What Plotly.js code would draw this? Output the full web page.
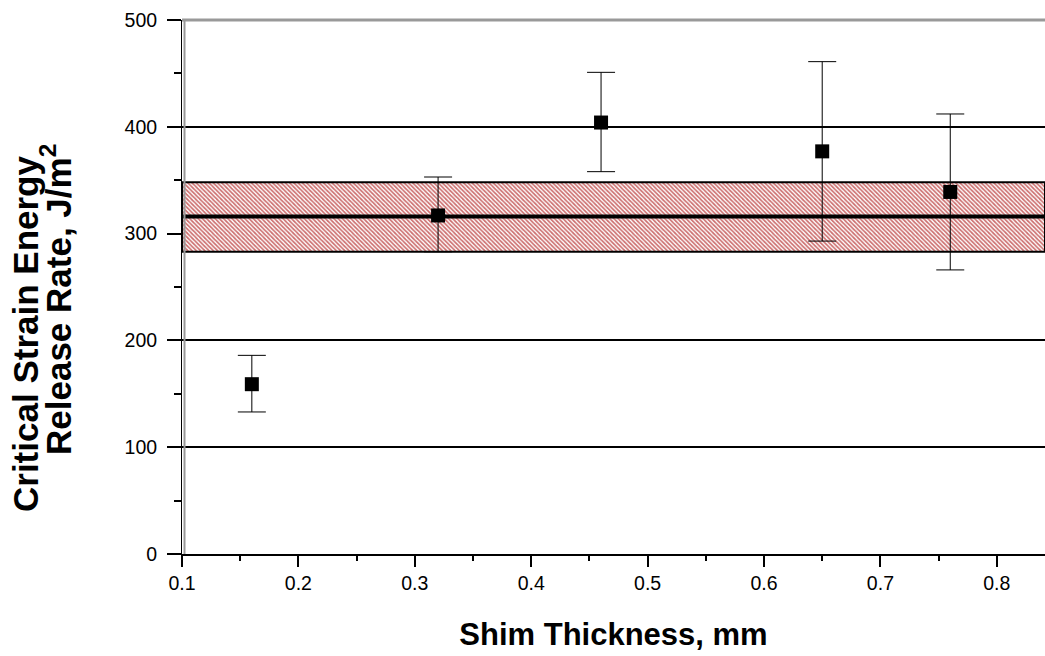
<!DOCTYPE html>
<html>
<head>
<meta charset="utf-8">
<script src="https://cdn.plot.ly/plotly-3.0.1.min.js"></script>
<style>html,body{margin:0;padding:0;background:#fff;}#chart{width:1045px;height:656px;}</style>
</head>
<body>
<div id="chart"></div>
<script>
// Data
const shimThickness = [0.16, 0.32, 0.46, 0.65, 0.76];      // mm
const gcValues      = [159, 317, 404, 377, 339];            // J/m^2
const errPlus       = [27, 36, 47, 84, 73];
const errMinus      = [26, 34, 46, 84, 73];
const bandLow  = 283;
const bandHigh = 348;
const bandMean = 316;
const xRange = [0.1, 0.8414];
const yRange = [0, 500];

const font = 'Liberation Sans, Arial, sans-serif';

const band = {
  type: 'scatter', mode: 'lines',
  x: [xRange[0], xRange[1], xRange[1], xRange[0], xRange[0]],
  y: [bandLow, bandLow, bandHigh, bandHigh, bandLow],
  fill: 'toself',
  fillcolor: '#ffffff',
  fillpattern: {shape: '\\', fgcolor: '#cc6e6e', bgcolor: '#ffffff', size: 3, solidity: 0.55},
  line: {color: '#000', width: 2},
  hoverinfo: 'skip', showlegend: false
};
const meanLine = {
  type: 'scatter', mode: 'lines',
  x: [xRange[0], xRange[1]], y: [bandMean, bandMean],
  line: {color: '#000', width: 4},
  hoverinfo: 'skip', showlegend: false
};
const points = {
  type: 'scatter', mode: 'markers',
  x: shimThickness, y: gcValues,
  marker: {symbol: 'square', size: 14, color: '#000'},
  error_y: {type: 'data', symmetric: false, array: errPlus, arrayminus: errMinus,
            color: '#000', thickness: 1, width: 14},
  showlegend: false
};

const layout = {
  width: 1045, height: 656,
  margin: {l: 182, r: 0, t: 20, b: 102},
  paper_bgcolor: '#fff', plot_bgcolor: '#fff',
  font: {family: font, color: '#000', size: 19},
  showlegend: false,
  xaxis: {
    range: xRange, dtick: 0.1, tick0: 0.1, tickformat: '.1f',
    ticks: 'outside', ticklen: 11, tickwidth: 2, tickcolor: '#000',
    minor: {dtick: 0.05, ticks: 'outside', ticklen: 5, tickwidth: 2, tickcolor: '#000', showgrid: false},
    showline: true, linecolor: '#000', linewidth: 2,
    showgrid: false, zeroline: false,
    tickfont: {family: font, size: 19.5, color: '#000'},
    title: {text: '<b>Shim Thickness, mm</b>', font: {family: font, size: 31, color: '#000'}, standoff: 30}
  },
  yaxis: {
    range: yRange, dtick: 100, tick0: 0,
    ticks: 'outside', ticklen: 14, tickwidth: 2, tickcolor: '#000',
    minor: {dtick: 50, ticks: 'outside', ticklen: 7, tickwidth: 2, tickcolor: '#000', showgrid: false},
    showline: true, linecolor: '#000', linewidth: 1,
    showgrid: true, gridcolor: '#000', gridwidth: 2, zeroline: false,
    tickfont: {family: font, size: 19.5, color: '#000'},
    ticklabelstandoff: 6
  },
  annotations: [
    {text: '<b>Critical Strain Energy</b>', textangle: -90, showarrow: false,
     xref: 'paper', yref: 'paper', x: (25 - 182) / 863, y: (554 - 334) / 534,
     xanchor: 'center', yanchor: 'middle', font: {family: font, size: 35, color: '#000'}},
    {text: '<b>Release Rate, J/m<sup>2</sup></b>', textangle: -90, showarrow: false,
     xref: 'paper', yref: 'paper', x: (56 - 182) / 863, y: (554 - 300) / 534,
     xanchor: 'center', yanchor: 'middle', font: {family: font, size: 35, color: '#000'}}
  ],
  shapes: [
    {type: 'line', xref: 'paper', yref: 'paper', x0: 0, x1: 1, y0: 1, y1: 1,
     line: {color: '#999', width: 3}, layer: 'above'},
    {type: 'line', xref: 'paper', yref: 'paper', xsizemode: 'pixel', xanchor: 0, x0: 2.5, x1: 2.5, y0: 0, y1: 1,
     line: {color: '#999', width: 2}, layer: 'above'}
  ]
};

Plotly.newPlot('chart', [band, meanLine, points], layout, {staticPlot: true, displayModeBar: false});
</script>
</body>
</html>
